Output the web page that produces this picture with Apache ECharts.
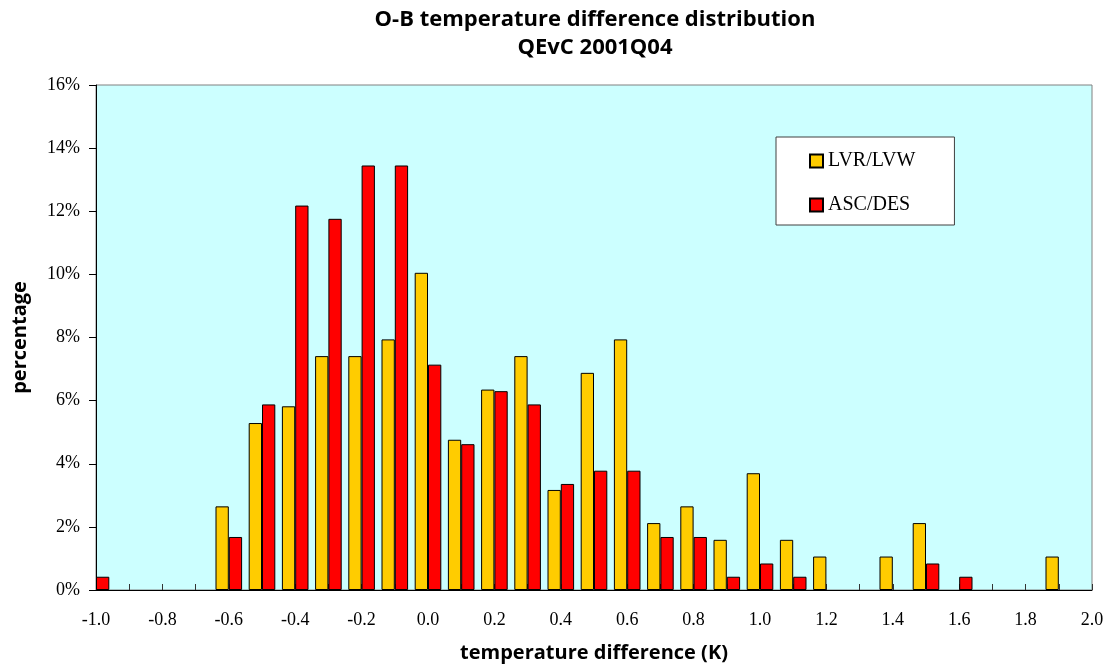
<!DOCTYPE html>
<html>
<head>
<meta charset="utf-8">
<script src="https://cdn.jsdelivr.net/npm/echarts@6/dist/echarts.min.js"></script>
<style>
  html, body { margin: 0; padding: 0; background: #fff; }
  #chart { width: 1109px; height: 668px; }
</style>
</head>
<body>
<div id="chart"></div>
<script>
// bin centres (K)
const bins = [-1.0, -0.9, -0.8, -0.7, -0.6, -0.5, -0.4, -0.3, -0.2, -0.1, 0.0,
  0.1, 0.2, 0.3, 0.4, 0.5, 0.6, 0.7, 0.8, 0.9, 1.0,
  1.1, 1.2, 1.3, 1.4, 1.5, 1.6, 1.7, 1.8, 1.9, 2.0];

// percentages per bin
const lvrLvw = [0, 0, 0, 0, 2.65, 5.29, 5.82, 7.41, 7.41, 7.94, 10.05,
  4.76, 6.35, 7.41, 3.17, 6.88, 7.94, 2.12, 2.65, 1.59, 3.70,
  1.59, 1.06, 0, 1.06, 2.12, 0, 0, 0, 1.06, 0];
const ascDes = [0.42, 0, 0, 0, 1.68, 5.88, 12.18, 11.76, 13.45, 13.45, 7.14,
  4.62, 6.30, 5.88, 3.36, 3.78, 3.78, 1.68, 1.68, 0.42, 0.84,
  0.42, 0, 0, 0, 0.84, 0.42, 0, 0, 0, 0];

const serif = '"Liberation Serif", "DejaVu Serif", serif';
const sans = '"Open Sans", "Noto Sans", sans-serif';

// empty bins get no bar at all (avoids stubs on the axis)
function pairs(vals) {
  return bins.map((x, i) => [x, vals[i] === 0 ? '-' : vals[i]]);
}

const chart = echarts.init(document.getElementById('chart'), null, { renderer: 'canvas' });

const option = {
  animation: false,
  title: {
    text: 'O-B temperature difference distribution\nQEvC 2001Q04',
    left: 590,
    top: 1,
    textAlign: 'center',
    textStyle: {
      fontFamily: sans,
      fontWeight: 'bold',
      fontSize: 22,
      lineHeight: 28,
      color: '#000'
    }
  },
  legend: {
    orient: 'vertical',
    left: 776,
    top: 137,
    backgroundColor: '#fff',
    borderColor: '#404040',
    borderWidth: 1,
    padding: [14, 39, 10, 33],
    itemWidth: 13,
    itemHeight: 13,
    itemGap: 24,
    icon: 'rect',
    textStyle: { fontFamily: serif, fontSize: 20, color: '#000' },
    data: ['LVR/LVW', 'ASC/DES']
  },
  grid: {
    left: 96,
    top: 85,
    right: 17,
    bottom: 77,
    show: true,
    backgroundColor: '#CCFFFF',
    borderColor: '#808080',
    borderWidth: 1
  },
  xAxis: {
    type: 'value',
    min: -1.0,
    max: 2.0,
    interval: 0.1,
    name: 'temperature difference (K)',
    nameLocation: 'middle',
    nameGap: 53,
    nameTextStyle: { fontFamily: sans, fontWeight: 'bold', fontSize: 20, color: '#000' },
    axisLine: { onZero: false, lineStyle: { color: '#000', width: 1 } },
    axisTick: { inside: true, length: 6, lineStyle: { color: '#333' } },
    splitLine: { show: false },
    axisLabel: {
      margin: 21,
      fontFamily: serif,
      fontSize: 18,
      color: '#000',
      formatter: function (v) {
        return Math.round(v * 10) % 2 === 0 ? v.toFixed(1) : '';
      }
    }
  },
  yAxis: {
    type: 'value',
    min: 0,
    max: 16,
    interval: 2,
    name: 'percentage',
    nameLocation: 'middle',
    nameGap: 66,
    nameTextStyle: { fontFamily: sans, fontWeight: 'bold', fontSize: 20, color: '#000' },
    axisLine: { show: true, onZero: false, lineStyle: { color: '#000', width: 1 } },
    axisTick: { show: true, length: 7, lineStyle: { color: '#000' } },
    splitLine: { show: false },
    axisLabel: {
      margin: 16,
      fontFamily: serif,
      fontSize: 18,
      color: '#000',
      formatter: '{value}%'
    }
  },
  series: [
    {
      name: 'LVR/LVW',
      type: 'bar',
      barWidth: 13.3,
      barGap: '0%',
      itemStyle: { color: '#FFCC00', borderColor: '#000', borderWidth: 1 },
      data: pairs(lvrLvw)
    },
    {
      name: 'ASC/DES',
      type: 'bar',
      barWidth: 13.3,
      barGap: '0%',
      itemStyle: { color: '#FF0000', borderColor: '#000', borderWidth: 1 },
      data: pairs(ascDes)
    }
  ]
};

chart.setOption(option);
</script>
</body>
</html>
